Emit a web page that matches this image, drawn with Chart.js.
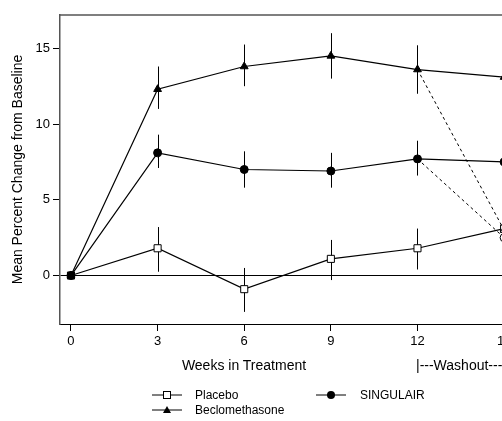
<!DOCTYPE html>
<html>
<head>
<meta charset="utf-8">
<script src="https://cdn.jsdelivr.net/npm/chart.js@4.4.1/dist/chart.umd.min.js"></script>
<style>
  html, body { margin: 0; padding: 0; background: #fff; overflow: hidden; }
  #wrap { position: relative; width: 502px; height: 421px; overflow: hidden; font-family: "Liberation Sans", Arial, sans-serif; color: #000; }
  #chart { position: absolute; left: 0; top: 0; }
  .lbl { position: absolute; white-space: nowrap; line-height: 1; }
  .xt { font-size: 14px; }
  .lg { font-size: 12px; }
  .sw { position: absolute; }
</style>
</head>
<body>
<div id="wrap">
  <canvas id="chart" width="540" height="421" style="width:540px;height:421px"></canvas>
  <div class="lbl xt" style="left:244px;top:358px;transform:translateX(-50%)">Weeks in Treatment</div>
  <div class="lbl xt" style="left:416px;top:358px">|---Washout---|</div>

  <svg class="sw" style="left:150px;top:388px" width="36" height="14">
    <line x1="2" y1="7" x2="32" y2="7" stroke="#000" stroke-width="1"/>
    <rect x="13.5" y="3.5" width="7" height="7" fill="#fff" stroke="#000" stroke-width="1"/>
  </svg>
  <div class="lbl lg" style="left:195px;top:389px">Placebo</div>

  <svg class="sw" style="left:150px;top:403px" width="36" height="14">
    <line x1="2" y1="7" x2="32" y2="7" stroke="#000" stroke-width="1"/>
    <polygon points="17,3 21,10 13,10" fill="#000"/>
  </svg>
  <div class="lbl lg" style="left:195px;top:404px">Beclomethasone</div>

  <svg class="sw" style="left:314px;top:388px" width="36" height="14">
    <line x1="2" y1="7" x2="32" y2="7" stroke="#000" stroke-width="1"/>
    <circle cx="17" cy="7" r="4" fill="#000"/>
  </svg>
  <div class="lbl lg" style="left:360px;top:389px">SINGULAIR</div>
</div>
<script>
// weeks on x axis
const weeks = [0, 3, 6, 9, 12, 15];
const xTicks = [0, 3, 6, 9, 12, 15];
const yTicks = [0, 5, 10, 15];

// mean % change from baseline
const placebo   = [0, 1.8, -0.9, 1.1, 1.8, 3.1];
const beclo     = [0, 12.3, 13.8, 14.5, 13.6, 13.1];
const singulair = [0, 8.1, 7.0, 6.9, 7.7, 7.5];

// error bar ends
const placeboLo   = [null, 0.25, -2.4, -0.3, 0.4, 1.7];
const placeboHi   = [null, 3.2, 0.5, 2.35, 3.1, 4.5];
const becloLo     = [null, 11.0, 12.5, 13.0, 12.0, 11.6];
const becloHi     = [null, 13.8, 15.25, 16.0, 15.2, 14.6];
const singulairLo = [null, 7.1, 5.8, 5.8, 6.6, 6.3];
const singulairHi = [null, 9.3, 8.2, 8.1, 8.9, 8.7];

// washout: from week 12 to week 15
const washoutWeeks = [12, 15];
const becloWashout = [13.6, 3.0];
const singulairWashout = [7.7, 2.5];

const pts = (xs, ys) => xs.map((x, i) => ({ x: x, y: ys[i] }));

// error bars, drawn under the markers
const errorBars = {
  id: 'errorBars',
  beforeDatasetsDraw(chart) {
    const { ctx, scales: { x, y } } = chart;
    ctx.save();
    ctx.strokeStyle = '#000';
    ctx.lineWidth = 1;
    [[placeboLo, placeboHi], [becloLo, becloHi], [singulairLo, singulairHi]].forEach(([lo, hi]) => {
      weeks.forEach((w, i) => {
        if (lo[i] == null) return;
        const px = Math.round(x.getPixelForValue(w)) + 0.5;
        ctx.beginPath();
        ctx.moveTo(px, y.getPixelForValue(lo[i]));
        ctx.lineTo(px, y.getPixelForValue(hi[i]));
        ctx.stroke();
      });
    });
    ctx.restore();
  }
};

// top edge of the plot frame
const frameTop = {
  id: 'frameTop',
  afterDraw(chart) {
    const { ctx, chartArea: a } = chart;
    ctx.save();
    ctx.strokeStyle = '#555';
    ctx.lineWidth = 1.5;
    ctx.beginPath();
    ctx.moveTo(a.left, a.top);
    ctx.lineTo(a.right, a.top);
    ctx.stroke();
    ctx.restore();
  }
};

const tickFont = { family: '"Liberation Sans", Arial, sans-serif', size: 13 };

new Chart(document.getElementById('chart'), {
  type: 'line',
  data: {
    datasets: [
      {
        label: 'Beclomethasone washout',
        data: pts(washoutWeeks, becloWashout),
        borderColor: '#000', borderWidth: 1, borderDash: [3, 3],
        pointStyle: 'triangle', pointRadius: [0, 4.5],
        pointBackgroundColor: '#fff', pointBorderColor: '#000', pointBorderWidth: 1
      },
      {
        label: 'SINGULAIR washout',
        data: pts(washoutWeeks, singulairWashout),
        borderColor: '#000', borderWidth: 1, borderDash: [3, 3],
        pointStyle: 'circle', pointRadius: [0, 4],
        pointBackgroundColor: '#fff', pointBorderColor: '#000', pointBorderWidth: 1
      },
      {
        label: 'Beclomethasone',
        data: pts(weeks, beclo),
        borderColor: '#000', borderWidth: 1.2,
        pointStyle: 'triangle', pointRadius: 4.5,
        pointBackgroundColor: '#000', pointBorderColor: '#000', pointBorderWidth: 1
      },
      {
        label: 'SINGULAIR',
        data: pts(weeks, singulair),
        borderColor: '#000', borderWidth: 1.2,
        pointStyle: 'circle', pointRadius: 4,
        pointBackgroundColor: '#000', pointBorderColor: '#000', pointBorderWidth: 1
      },
      {
        label: 'Placebo',
        data: pts(weeks, placebo),
        borderColor: '#000', borderWidth: 1.2,
        pointStyle: 'rect', pointRadius: 5,
        pointBackgroundColor: '#fff', pointBorderColor: '#000', pointBorderWidth: 1
      }
    ]
  },
  options: {
    responsive: false,
    animation: false,
    devicePixelRatio: 1,
    layout: { padding: { left: 0, top: 15, right: 7, bottom: 0 } },
    plugins: { legend: { display: false }, tooltip: { enabled: false } },
    elements: { line: { tension: 0 } },
    scales: {
      x: {
        type: 'linear',
        min: -0.38,
        max: 16,
        afterBuildTicks: s => { s.ticks = xTicks.map(v => ({ value: v })); },
        afterFit: s => { s.height = 97; },
        border: { display: true, color: '#000', width: 1 },
        grid: { drawOnChartArea: false, drawTicks: true, tickLength: 7, tickColor: '#000' },
        ticks: { color: '#000', font: tickFont, padding: 3, maxRotation: 0 }
      },
      y: {
        type: 'linear',
        min: -3.2,
        max: 17.2,
        afterBuildTicks: s => { s.ticks = yTicks.map(v => ({ value: v })); },
        afterFit: s => { s.width = 60; },
        border: { display: true, color: '#555', width: 1.5 },
        grid: {
          color: c => (c.tick && c.tick.value === 0 ? '#000' : 'rgba(0,0,0,0)'),
          drawTicks: true, tickLength: 7, tickColor: '#000'
        },
        ticks: { color: '#000', font: tickFont, padding: 3 },
        title: {
          display: true,
          text: 'Mean Percent Change from Baseline',
          color: '#000',
          font: { family: '"Liberation Sans", Arial, sans-serif', size: 14 },
          padding: { top: 10, bottom: 0 }
        }
      }
    }
  },
  plugins: [errorBars, frameTop]
});
</script>
</body>
</html>
